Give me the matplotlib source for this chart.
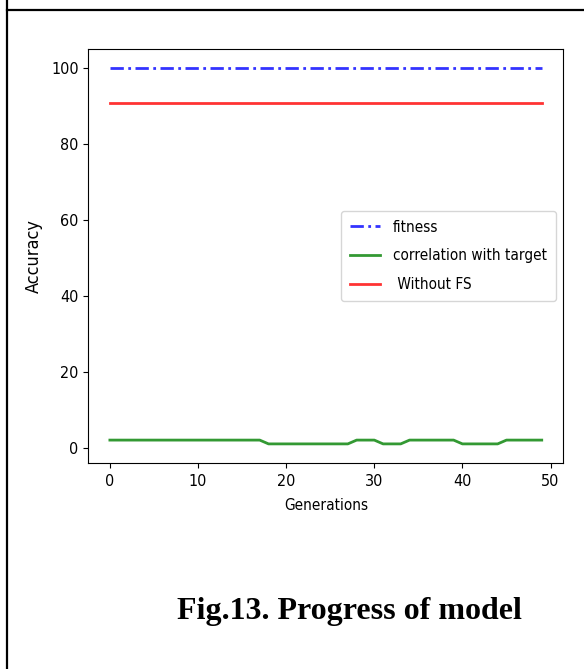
import matplotlib
matplotlib.use("Agg")
from matplotlib import pyplot as plt
from matplotlib.lines import Line2D

# data
generations = list(range(50))
fitness = [100] * 50
correlation = ([2] * 18 + [1] * 10 + [2] * 3 + [1] * 3
               + [2] * 6 + [1] * 5 + [2] * 5)
without_fs = [90.7] * 50

x_ticks = [0, 10, 20, 30, 40, 50]
y_ticks = [0, 20, 40, 60, 80, 100]
caption = "Fig.13. Progress of model"


def main():
	plt.rcParams["font.family"] = ["DejaVu Sans"]
	plt.rcParams["font.stretch"] = "condensed"

	fig = plt.figure(figsize=(5.84, 6.69), dpi=100)
	ax = fig.add_axes([0.1512, 0.3084, 0.8134, 0.6179])

	ax.plot(generations, fitness, color="b", alpha=0.8, lw=2,
		linestyle="-.", dashes=(4.8, 1.6, 1.0, 1.6), label="fitness")
	ax.plot(generations, correlation, color="g", alpha=0.8, lw=2,
		label="correlation with target")
	ax.plot(generations, without_fs, color="r", alpha=0.8, lw=2,
		label=" Without FS")

	ax.set_xticks(x_ticks)
	ax.set_yticks(y_ticks)
	ax.tick_params(labelsize=11.5)
	ax.tick_params(axis="x", pad=5)
	ax.set_xlabel("Generations", fontsize=11, labelpad=6)
	ax.set_ylabel("Accuracy", fontsize=13, labelpad=6)
	ax.legend(loc="center right", fontsize=11, labelspacing=0.9,
		borderpad=0.6, handlelength=2.0)

	# caption below the chart, as in the paper's table cell
	fig.text(0.598, 1 - 619 / 669, caption, ha="center", va="baseline",
		fontsize=23, fontweight="bold", family="Liberation Serif",
		fontstretch="normal")

	# table cell border (left and top edges)
	fig.add_artist(Line2D([6.5 / 584, 6.5 / 584], [0, 1], transform=fig.transFigure,
		color="black", lw=1.6))
	fig.add_artist(Line2D([6.5 / 584, 1], [1 - 10 / 669, 1 - 10 / 669],
		transform=fig.transFigure, color="black", lw=1.6))

	fig.savefig("out.png", dpi=100)
	plt.close(fig)


if __name__ == "__main__":
	main()
